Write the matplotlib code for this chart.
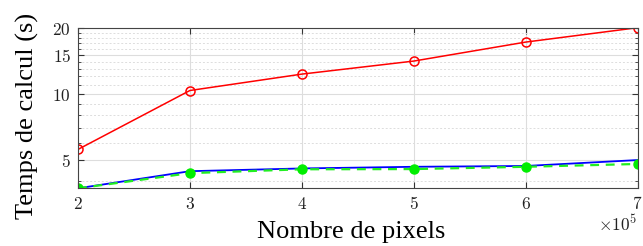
import matplotlib
matplotlib.use('Agg')
import matplotlib.pyplot as plt
from matplotlib.ticker import FixedLocator, FuncFormatter, NullFormatter

plt.rcParams['mathtext.fontset'] = 'cm'

# data
pixels = [2e5, 3e5, 4e5, 5e5, 6e5, 7e5]
temps_rouge = [5.59, 10.36, 12.3, 14.1, 17.2, 20.0]
temps_bleu = [3.72, 4.45, 4.58, 4.66, 4.70, 5.0]
temps_vert = [3.72, 4.36, 4.54, 4.55, 4.66, 4.80]

y_major = [5, 10, 15, 20]
y_minor = [4, 6, 7, 8, 9, 11, 12, 13, 14, 16, 17, 18, 19]
x_ticks = [2e5, 3e5, 4e5, 5e5, 6e5, 7e5]

fig = plt.figure(figsize=(6.43, 2.46), dpi=100)
ax = fig.add_axes([78 / 643, 1 - 188.3 / 246, (637.5 - 78) / 643, (188.3 - 27.7) / 246])

ax.plot(pixels, temps_rouge, color='red', lw=1.1, marker='o', ms=6.5,
        mfc='none', mec='red', mew=1.1)
ax.plot(pixels, temps_bleu, color='blue', lw=1.3)
ax.plot(pixels, temps_vert, color='#22ee22', lw=1.6, ls=(0, (4, 3)),
        marker='o', ms=6.5, mfc='#00ee00', mec='#00ee00')

ax.set_yscale('log')
ax.set_xlim(2e5, 7e5)
ax.set_ylim(3.72, 20)

ax.yaxis.set_major_locator(FixedLocator(y_major))
ax.yaxis.set_minor_locator(FixedLocator(y_minor))
ax.yaxis.set_major_formatter(FuncFormatter(lambda v, p: f'${v:g}$'))
ax.yaxis.set_minor_formatter(NullFormatter())
ax.xaxis.set_major_locator(FixedLocator(x_ticks))
ax.xaxis.set_major_formatter(FuncFormatter(lambda v, p: f'${v / 1e5:g}$'))

ax.grid(True, which='major', color='#dddddd', lw=0.8)
ax.grid(True, which='minor', axis='y', color='#dddddd', lw=0.7, ls=(0, (2, 2)))
ax.set_axisbelow(True)

ax.tick_params(which='both', direction='in', top=True, right=True,
               colors='#333333', labelcolor='#222222', labelsize=12.5)
ax.tick_params(which='major', length=4, pad=5)
ax.tick_params(which='minor', length=2.5)
for s in ax.spines.values():
    s.set_color('#444444')
    s.set_linewidth(0.8)

ax.text(1.0, -0.16, r'$\times10^{5}$', transform=ax.transAxes,
        ha='right', va='top', fontsize=12.5, color='#222222')

ax.set_xlabel('Nombre de pixels', family='Liberation Serif', fontsize=19)
ax.set_ylabel('Temps de calcul (s)', family='Liberation Serif', fontsize=19)
ax.xaxis.set_label_coords(0.488, -0.205)
ax.yaxis.set_label_coords(-0.070, 0.452)

fig.savefig('out.png', dpi=100)
